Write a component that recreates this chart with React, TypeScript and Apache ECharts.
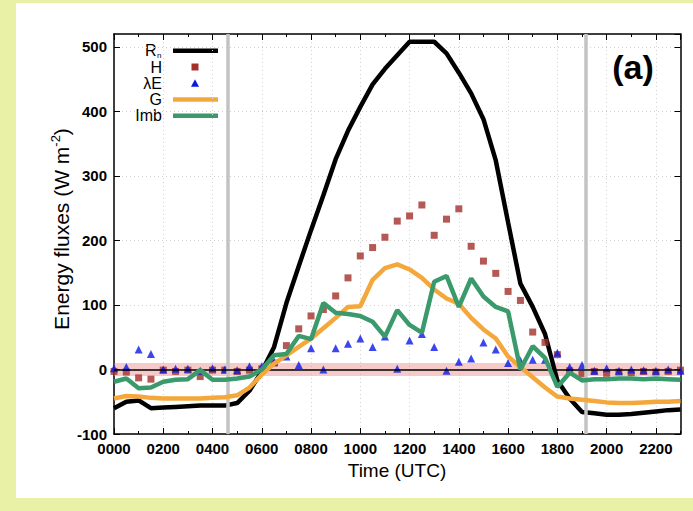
import React, { useEffect, useRef } from "react";
import * as echarts from "echarts";

// Half-hourly observation times (hours UTC)
const HOURS = [
  0, 0.5, 1, 1.5, 2, 2.5, 3, 3.5, 4, 4.5, 5, 5.5, 6, 6.5, 7, 7.5, 8, 8.5, 9, 9.5,
  10, 10.5, 11, 11.5, 12, 12.5, 13, 13.5, 14, 14.5, 15, 15.5, 16, 16.5, 17, 17.5,
  18, 18.5, 19, 19.5, 20, 20.5, 21, 21.5, 22, 22.5, 23,
];

// Net radiation Rn (W m-2)
const RN = [
  -60, -50, -48, -60, -59, -58, -57, -56, -56, -56, -52, -33, -3, 35, 103, 160,
  216, 270, 326, 370, 407, 442, 466, 487, 508, 508, 508, 490, 460, 428, 388, 324,
  228, 133, 97, 55, -17, -45, -66, -68, -70, -70, -69, -67, -65, -63, -62,
];

// Sensible heat flux H
const H = [
  -3, -4, -13, -15, -1, -3, -1, -11, -1, -1, -3, -1, 1, 10, 37, 63, 83, 93, 114,
  142, 176, 189, 205, 230, 238, 255, 208, 233, 249, 191, 168, 149, 121, 107, 58,
  42, 23, -2, -7, -3, -6, -4, -5, -3, -4, -3, -1,
];

// Latent heat flux λE
const LE = [
  2, 4, 31, 24, 0, 1, 1, -2, 2, 0, -1, 5, 5, 12, 20, 7, 33, 0, 33, 40, 48, 35, 51,
  1, 45, 55, 35, -2, 12, 17, 42, 31, 10, 14, 15, 15, 26, 4, 7, -2, 2, -2, 0, -1,
  -2, 0, -2,
];

// Ground heat flux G
const G = [
  -45, -41, -42, -44, -45, -45, -45, -45, -44, -43, -40, -28, -8, 9, 22, 35, 48,
  64, 80, 97, 98, 139, 157, 163, 155, 142, 124, 110, 102, 80, 62, 48, 20, 4, -12,
  -28, -42, -45, -47, -49, -51, -52, -52, -51, -50, -50, -49,
];

// Energy balance residual Imb
const IMB = [
  -19, -14, -29, -28, -19, -16, -15, -1, -16, -16, -14, -11, 0, 22, 24, 52, 47,
  103, 88, 86, 83, 74, 51, 92, 69, 57, 136, 145, 97, 141, 113, 97, 90, 0, 36, 18,
  -27, -5, -17, -15, -15, -14, -14, -15, -14, -15, -16,
];

// Sunrise / sunset (hours UTC) and the ±uncertainty band around zero
const SUNRISE = 4.63;
const SUNSET = 19.17;
const BAND = 10;

const X_MIN = 0;
const X_MAX = 23;
const Y_MIN = -100;
const Y_MAX = 520;

const FONT = '"Liberation Sans", Arial, Helvetica, sans-serif';
const C_RN = "#000000";
const C_H = "#a3302a";
const C_LE = "#0a18e8";
const C_G = "#f4a83c";
const C_IMB = "#3b9a6c";
const LINE_W = 4.5;

const pairs = (vals: number[]) => HOURS.map((h, i) => [h, vals[i]]);

// key rows (centre y of each entry)
const KEY_TEXT_X = 162;
const KEY_X1 = 173;
const KEY_X2 = 218;
const KEY_Y = [50.7, 67, 83.2, 99.5, 115.8];

const keyText = (text: string, y: number) => ({
  type: "text",
  x: KEY_TEXT_X,
  y,
  style: {
    text,
    fill: "#000",
    font: `16px ${FONT}`,
    lineHeight: 14,
    align: "right",
    verticalAlign: "middle",
  },
});

const keyLine = (color: string, y: number) => ({
  type: "line",
  shape: { x1: KEY_X1, y1: y, x2: KEY_X2, y2: y },
  style: { stroke: color, lineWidth: LINE_W },
});

function buildOption(): echarts.EChartsOption {
  const tickLine = { color: "#000", width: 1 };
  const frameLine = { show: true, onZero: false, lineStyle: { color: "#000", width: 1.5 } };
  const dots = { show: true, lineStyle: { color: "#d2d2d2", width: 1, type: [1, 3] as any } };
  const tickLabel = {
    color: "#000",
    fontFamily: FONT,
    fontSize: 15,
    fontWeight: "bold" as const,
  };

  const hourTicks = (position: "top" | "bottom") => ({
    type: "value" as const,
    position,
    min: X_MIN,
    max: X_MAX,
    interval: 1,
    axisLine: { show: false, onZero: false },
    axisTick: { show: true, inside: true, length: 3, lineStyle: tickLine },
    axisLabel: { show: false },
    splitLine: { show: false },
  });

  return {
    animation: false,
    backgroundColor: "transparent",
    grid: { left: 114, right: 12.5, top: 34, bottom: 77, containLabel: false },
    xAxis: [
      {
        type: "value",
        position: "bottom",
        min: X_MIN,
        max: X_MAX,
        interval: 2,
        axisLine: frameLine,
        axisTick: { show: true, inside: true, length: 6, lineStyle: tickLine },
        splitLine: dots,
        axisLabel: {
          ...tickLabel,
          margin: 7,
          showMaxLabel: false,
          formatter: (v: number) =>
            v % 2 === 0 && v < X_MAX ? String(v * 100).padStart(4, "0") : "",
        },
      },
      hourTicks("bottom"),
      {
        type: "value",
        position: "top",
        min: X_MIN,
        max: X_MAX,
        interval: 2,
        axisLine: frameLine,
        axisTick: { show: true, inside: true, length: 6, lineStyle: tickLine },
        axisLabel: { show: false },
        splitLine: { show: false },
      },
      hourTicks("top"),
    ],
    yAxis: [
      {
        type: "value",
        position: "left",
        min: Y_MIN,
        max: Y_MAX,
        interval: 100,
        axisLine: frameLine,
        axisTick: { show: true, inside: true, length: 6, lineStyle: tickLine },
        splitLine: dots,
        axisLabel: {
          ...tickLabel,
          margin: 7,
          showMaxLabel: false,
          formatter: (v: number) => (v <= 500 ? String(v) : ""),
        },
      },
      {
        type: "value",
        position: "right",
        min: Y_MIN,
        max: Y_MAX,
        interval: 100,
        axisLine: frameLine,
        axisTick: { show: true, inside: true, length: 6, lineStyle: tickLine },
        axisLabel: { show: false },
        splitLine: { show: false },
      },
    ],
    series: [
      {
        name: "reference",
        type: "line",
        data: [],
        silent: true,
        z: 1,
        markArea: {
          silent: true,
          itemStyle: { color: "rgba(236,128,128,0.42)" },
          data: [[{ yAxis: -BAND }, { yAxis: BAND }]] as any,
        },
        markLine: {
          silent: true,
          symbol: ["none", "none"],
          label: { show: false },
          data: [
            { xAxis: SUNRISE, lineStyle: { color: "#c3c3c3", width: 3.5, type: "solid" } },
            { xAxis: SUNSET, lineStyle: { color: "#c3c3c3", width: 3.5, type: "solid" } },
            { yAxis: 0, lineStyle: { color: "#000", width: 1.5, type: "solid" } },
          ] as any,
        },
      },
      {
        name: "Rn",
        type: "line",
        data: pairs(RN),
        symbol: "none",
        z: 3,
        lineStyle: { color: C_RN, width: LINE_W },
      },
      {
        name: "H",
        type: "scatter",
        data: pairs(H),
        symbol: "rect",
        symbolSize: 7,
        z: 4,
        itemStyle: { color: C_H },
      },
      {
        name: "λE",
        type: "scatter",
        data: pairs(LE),
        symbol: "triangle",
        symbolSize: 8,
        z: 4,
        itemStyle: { color: C_LE },
      },
      {
        name: "G",
        type: "line",
        data: pairs(G),
        symbol: "none",
        z: 5,
        lineStyle: { color: C_G, width: LINE_W },
      },
      {
        name: "Imb",
        type: "line",
        data: pairs(IMB),
        symbol: "none",
        z: 6,
        lineStyle: { color: C_IMB, width: LINE_W },
      },
    ],
    graphic: [
      // axis titles
      {
        type: "text",
        x: 397,
        y: 470,
        style: {
          text: "Time (UTC)",
          fill: "#000",
          font: `19px ${FONT}`,
          align: "center",
          verticalAlign: "middle",
        },
      },
      {
        type: "text",
        x: 61,
        y: 229,
        rotation: Math.PI / 2,
        style: {
          text: "Energy fluxes (W m{sup|-2})",
          fill: "#000",
          font: `21px ${FONT}`,
          align: "center",
          verticalAlign: "middle",
          lineHeight: 24,
          rich: {
            sup: {
              fontSize: 13,
              fontFamily: FONT,
              fill: "#000",
              verticalAlign: "top",
              lineHeight: 24,
              padding: [0, 0, 9, 0],
            },
          },
        } as any,
      },
      // panel tag
      {
        type: "text",
        x: 633,
        y: 67,
        style: {
          text: "(a)",
          fill: "#000",
          font: `bold 34px ${FONT}`,
          align: "center",
          verticalAlign: "middle",
        },
      },
      // key
      {
        type: "text",
        x: 156.5,
        y: KEY_Y[0],
        style: {
          text: "R",
          fill: "#000",
          font: `16px ${FONT}`,
          lineHeight: 14,
          align: "right",
          verticalAlign: "middle",
        },
      },
      {
        type: "text",
        x: 157,
        y: KEY_Y[0] + 4.5,
        style: {
          text: "n",
          fill: "#000",
          font: `8px ${FONT}`,
          lineHeight: 7,
          align: "left",
          verticalAlign: "middle",
        },
      },
      keyLine(C_RN, KEY_Y[0]),
      keyText("H", KEY_Y[1]),
      {
        type: "rect",
        shape: { x: 191.5, y: KEY_Y[1] - 3.5, width: 7, height: 7 },
        style: { fill: C_H },
      },
      keyText("λE", KEY_Y[2]),
      {
        type: "polygon",
        shape: {
          points: [
            [195, KEY_Y[2] - 4],
            [199, KEY_Y[2] + 3.5],
            [191, KEY_Y[2] + 3.5],
          ],
        },
        style: { fill: C_LE },
      },
      keyText("G", KEY_Y[3]),
      keyLine(C_G, KEY_Y[3]),
      keyText("Imb", KEY_Y[4]),
      keyLine(C_IMB, KEY_Y[4]),
    ] as any,
  };
}

export default function App() {
  const ref = useRef<HTMLDivElement | null>(null);

  useEffect(() => {
    if (!ref.current) return;
    const chart = echarts.init(ref.current, undefined, { renderer: "svg" });
    chart.setOption(buildOption());
    return () => chart.dispose();
  }, []);

  return (
    <div
      style={{
        position: "fixed",
        left: 0,
        top: 0,
        width: 693,
        height: 511,
        background: "#e9f1a6",
        overflow: "hidden",
      }}
    >
      <div
        style={{
          position: "absolute",
          left: 16,
          top: 3,
          width: 677,
          height: 495,
          background: "#ffffff",
        }}
      />
      <div
        ref={ref}
        style={{ position: "absolute", left: 0, top: 0, width: 693, height: 511 }}
      />
    </div>
  );
}
